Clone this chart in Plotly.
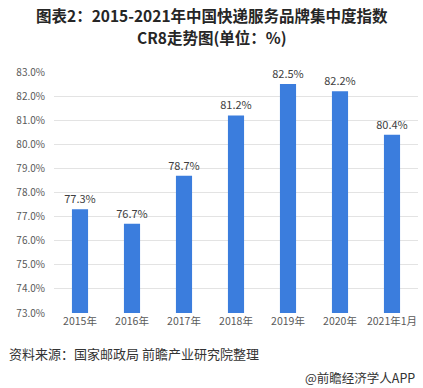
import plotly.graph_objects as go

categories = ["2015年", "2016年", "2017年", "2018年", "2019年", "2020年", "2021年1月"]
values = [77.3, 76.7, 78.7, 81.2, 82.5, 82.2, 80.4]
y_ticks = [73, 74, 75, 76, 77, 78, 79, 80, 81, 82, 83]
y_tick_labels = [f"{v:.1f}%" for v in y_ticks]
base_value = 73

font = "Noto Sans CJK SC, Arial, sans-serif"

fig = go.Figure()
fig.add_trace(go.Bar(
    x=categories, y=[v - base_value for v in values], base=base_value,
    marker=dict(color="#3b7ddd", line=dict(width=0)),
    width=0.31,
    text=[f"{v:.1f}%" for v in values],
    textposition="outside",
    constraintext="none",
    textfont=dict(size=11, color="#404040", family=font),
    cliponaxis=False,
    hoverinfo="skip",
))

fig.update_layout(
    width=423, height=388,
    margin=dict(l=54, r=5, t=72, b=75, autoexpand=False),
    paper_bgcolor="white", plot_bgcolor="white",
    showlegend=False,
    font=dict(family=font),
    xaxis=dict(
        tickfont=dict(size=10.5, color="#595959"),
        showline=False, showgrid=False, ticks="", automargin=False,
    ),
    yaxis=dict(
        range=[73, 83], tickvals=y_ticks, ticktext=y_tick_labels,
        tickfont=dict(size=10, color="#595959"),
        showgrid=True, gridcolor="#e3e3e3", gridwidth=1,
        zeroline=False, showline=False, ticks="", ticklabelstandoff=8,
        automargin=False,
    ),
)
title_lines = ["图表2：2015-2021年中国快递服务品牌集中度指数", "CR8走势图(单位：%)"]
for line, py in zip(title_lines, [15, 37]):
    fig.add_annotation(
        text=f"<b>{line}</b>",
        xref="paper", yref="paper", x=(212 - 54) / 364, y=(313 - py) / 241,
        xanchor="center", yanchor="middle", showarrow=False,
        font=dict(size=15.5, color="#262626", family=font),
    )
fig.add_annotation(
    text="资料来源：国家邮政局 前瞻产业研究院整理",
    xref="paper", yref="paper", x=(7 - 54) / 364, y=(313 - 353) / 241,
    xanchor="left", yanchor="middle",
    showarrow=False, font=dict(size=13, color="#333333", family=font),
)
fig.add_annotation(
    text="@前瞻经济学人APP",
    xref="paper", yref="paper", x=(417 - 54) / 364, y=(313 - 377) / 241,
    xanchor="right", yanchor="middle",
    showarrow=False, font=dict(size=12.5, color="#333333", family=font),
)
fig.write_html(
    "out.html",
    config={"displayModeBar": False},
    post_script="document.body.style.margin='0';document.body.style.overflow='hidden';",
)
